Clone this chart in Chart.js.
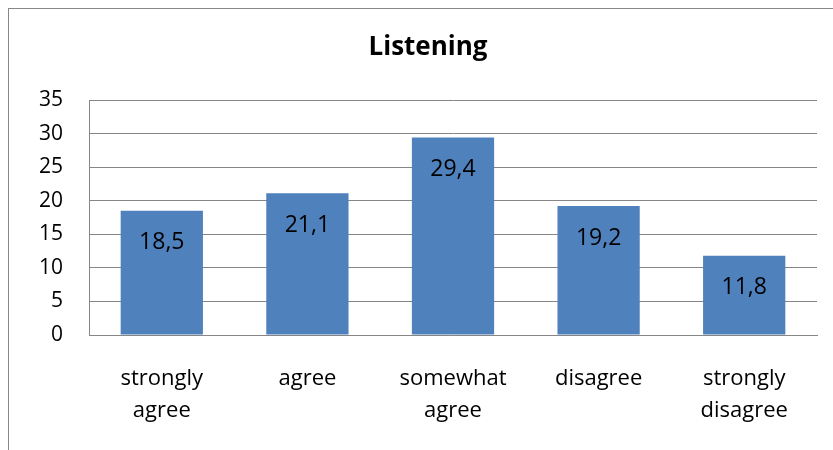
<!DOCTYPE html>
<html>
<head>
<meta charset="utf-8">
<script src="https://cdn.jsdelivr.net/npm/chart.js@4.4.0/dist/chart.umd.min.js"></script>
<style>
  html, body { margin: 0; padding: 0; background: #fff; overflow: hidden; }
  #frame {
    position: absolute; left: 8px; top: 8px;
    width: 848px; height: 448px;
    border: 1px solid #888;
  }
  #chart { display: block; }
</style>
</head>
<body>
<div id="frame"><canvas id="chart" width="848" height="448"></canvas></div>
<script>
const categories = [['strongly', 'agree'], 'agree', ['somewhat', 'agree'], 'disagree', ['strongly', 'disagree']];
const values = [18.5, 21.1, 29.4, 19.2, 11.8];
const valueLabels = ['18,5', '21,1', '29,4', '19,2', '11,8'];
const yTicks = [0, 5, 10, 15, 20, 25, 30, 35];
const chartTitle = 'Listening';

const FONT = "'Open Sans', sans-serif";

// title centred on the whole frame, not just the padded layout box
const frameTitle = {
  id: 'frameTitle',
  afterDraw(chart) {
    const ctx = chart.ctx;
    ctx.save();
    ctx.font = `bold 26px ${FONT}`;
    ctx.fillStyle = '#000';
    ctx.textAlign = 'center';
    ctx.textBaseline = 'middle';
    ctx.fillText(chartTitle, 419, 39);
    ctx.restore();
  }
};

// writes the value just inside the top of each bar, Excel "inside end" style
const barLabels = {
  id: 'barLabels',
  afterDatasetsDraw(chart) {
    const ctx = chart.ctx;
    const meta = chart.getDatasetMeta(0);
    ctx.save();
    ctx.font = `23px ${FONT}`;
    ctx.fillStyle = '#000';
    ctx.textAlign = 'center';
    ctx.textBaseline = 'middle';
    meta.data.forEach((bar, i) => {
      ctx.fillText(valueLabels[i], bar.x, bar.y + 32);
    });
    ctx.restore();
  }
};

new Chart(document.getElementById('chart'), {
  type: 'bar',
  data: {
    labels: categories,
    datasets: [{
      data: values,
      backgroundColor: '#4f81bd',
      categoryPercentage: 1,
      barPercentage: 0.565
    }]
  },
  options: {
    responsive: false,
    animation: false,
    layout: { padding: { left: 0, right: 40, top: 91, bottom: 0 } },
    plugins: {
      legend: { display: false },
      tooltip: { enabled: false },
      title: { display: false }
    },
    scales: {
      x: {
        grid: { display: false, drawTicks: false },
        border: { display: true, color: '#868686', width: 1 },
        ticks: {
          color: '#000',
          padding: 28,
          maxRotation: 0,
          autoSkip: false,
          font: { family: FONT, size: 22, lineHeight: 1.45 }
        },
        afterFit(scale) { scale.height = 122; }
      },
      y: {
        min: 0,
        max: 35,
        afterBuildTicks(scale) { scale.ticks = yTicks.map(v => ({ value: v })); },
        grid: { color: '#868686', lineWidth: 1, drawTicks: false },
        border: { display: true, color: '#868686', width: 1 },
        ticks: {
          color: '#000',
          padding: 26,
          font: { family: FONT, size: 21 }
        },
        afterFit(scale) { scale.width = 80; }
      }
    }
  },
  plugins: [barLabels, frameTitle]
});
</script>
</body>
</html>
